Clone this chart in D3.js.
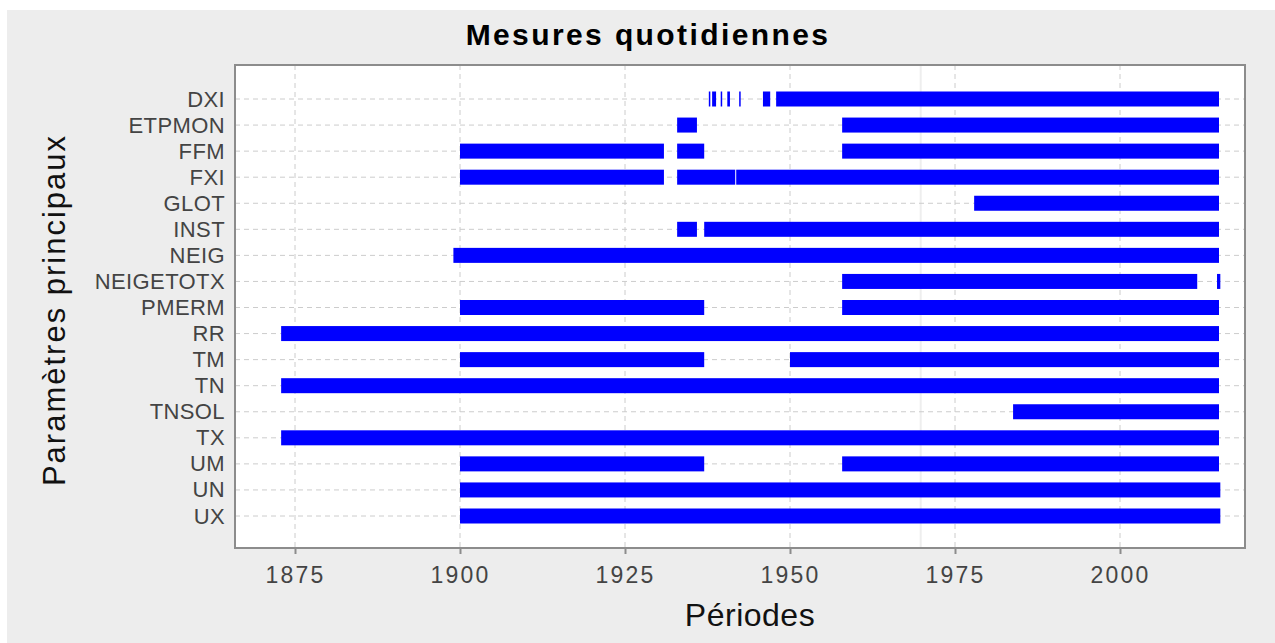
<!DOCTYPE html>
<html>
<head>
<meta charset="utf-8">
<script src="https://cdn.jsdelivr.net/npm/d3@7"></script>
<style>
body{margin:0;background:#fff;}
</style>
</head>
<body>
<script>
// parametres, dans l'ordre du haut vers le bas
const params = ["DXI","ETPMON","FFM","FXI","GLOT","INST","NEIG","NEIGETOTX","PMERM","RR","TM","TN","TNSOL","TX","UM","UN","UX"];

// periodes de mesure [debut, fin] par parametre
const periodsDXI = [[1937.7,1937.9],[1938.2,1938.8],[1939.5,1939.7],[1940.5,1940.9],[1942.3,1942.45],[1945.9,1947.0],[1947.9,2015.0]];
const periodsETPMON = [[1932.9,1935.9],[1957.9,2015.0]];
const periodsFFM = [[1900.0,1930.9],[1932.9,1937.0],[1957.9,2015.0]];
const periodsFXI = [[1900.0,1930.9],[1932.9,1941.7],[1941.85,2015.0]];
const periodsGLOT = [[1977.9,2015.0]];
const periodsINST = [[1932.9,1935.9],[1937.0,2015.0]];
const periodsNEIG = [[1899.0,2015.0]];
const periodsNEIGETOTX = [[1957.9,2011.7],[2014.7,2015.2]];
const periodsPMERM = [[1900.0,1937.0],[1957.9,2015.0]];
const periodsRR = [[1872.9,2015.0]];
const periodsTM = [[1900.0,1937.0],[1950.0,2015.0]];
const periodsTN = [[1872.9,2015.0]];
const periodsTNSOL = [[1983.8,2015.0]];
const periodsTX = [[1872.9,2015.0]];
const periodsUM = [[1900.0,1937.0],[1957.9,2015.0]];
const periodsUN = [[1900.0,2015.2]];
const periodsUX = [[1900.0,2015.2]];

const xTicks = [1875,1900,1925,1950,1975,2000];

const allPeriods = {DXI:periodsDXI,ETPMON:periodsETPMON,FFM:periodsFFM,FXI:periodsFXI,GLOT:periodsGLOT,
  INST:periodsINST,NEIG:periodsNEIG,NEIGETOTX:periodsNEIGETOTX,PMERM:periodsPMERM,RR:periodsRR,TM:periodsTM,
  TN:periodsTN,TNSOL:periodsTNSOL,TX:periodsTX,UM:periodsUM,UN:periodsUN,UX:periodsUX};

const segs = [];
params.forEach(p => allPeriods[p].forEach(d => segs.push({param:p, start:d[0], end:d[1]})));

const W = 1275, H = 643;
const pLeft = 235, pRight = 1245, pTop = 65, pBottom = 548;
const font = "Liberation Sans, Arial, sans-serif";

const svg = d3.select("body").append("svg")
  .attr("width", W)
  .attr("height", H);

svg.append("rect")
  .attr("x", 7).attr("y", 10)
  .attr("width", W - 7).attr("height", H - 10)
  .attr("fill", "#ededed");

svg.append("rect")
  .attr("x", pLeft).attr("y", pTop)
  .attr("width", pRight - pLeft).attr("height", pBottom - pTop)
  .attr("fill", "#fff");

const x = d3.scaleLinear()
  .domain([1875 - 60/6.6, 1875 + 950/6.6])
  .range([pLeft, pRight]);

const y = d3.scalePoint()
  .domain(params)
  .range([99, 516]);

// faint line in the panel
svg.append("line")
  .attr("x1", x(1969.8)).attr("x2", x(1969.8))
  .attr("y1", pTop).attr("y2", pBottom)
  .attr("stroke", "#eeeeee").attr("stroke-width", 2);

// grid
svg.append("g").selectAll("line").data(xTicks).enter().append("line")
  .attr("x1", d => x(d)).attr("x2", d => x(d))
  .attr("y1", pTop).attr("y2", pBottom)
  .attr("stroke", "#cccccc").attr("stroke-width", 1)
  .attr("stroke-dasharray", "5,4");

svg.append("g").selectAll("line").data(params).enter().append("line")
  .attr("x1", pLeft).attr("x2", pRight)
  .attr("y1", d => y(d)).attr("y2", d => y(d))
  .attr("stroke", "#cccccc").attr("stroke-width", 1)
  .attr("stroke-dasharray", "5,4");

// bars
svg.append("g").selectAll("rect").data(segs).enter().append("rect")
  .attr("x", d => x(d.start))
  .attr("y", d => y(d.param) - 7.5)
  .attr("width", d => Math.max(1.5, x(d.end) - x(d.start)))
  .attr("height", 15)
  .attr("fill", "#0000ff");

// frame
svg.append("rect")
  .attr("x", pLeft).attr("y", pTop)
  .attr("width", pRight - pLeft).attr("height", pBottom - pTop)
  .attr("fill", "none")
  .attr("stroke", "#8c8c8c").attr("stroke-width", 2);

// x axis
const xAxis = svg.append("g")
  .attr("transform", "translate(0," + pBottom + ")")
  .call(d3.axisBottom(x).tickValues(xTicks).tickFormat(d3.format("d")).tickSize(6).tickSizeOuter(0));
xAxis.select(".domain").remove();
xAxis.selectAll(".tick line").attr("stroke", "#8c8c8c").attr("stroke-width", 2);
xAxis.selectAll(".tick text")
  .attr("y", 35).attr("dy", null)
  .attr("font-family", font)
  .attr("font-size", "23px")
  .attr("letter-spacing", "2.2px")
  .attr("fill", "#444");

// y axis
const yAxis = svg.append("g")
  .attr("transform", "translate(" + pLeft + ",0)")
  .call(d3.axisLeft(y).tickSize(0).tickPadding(10));
yAxis.select(".domain").remove();
yAxis.selectAll(".tick text")
  .attr("font-family", font)
  .attr("font-size", "22px")
  .attr("letter-spacing", "0.4px")
  .attr("fill", "#444");

// titles
svg.append("text")
  .attr("x", 648).attr("y", 45)
  .attr("text-anchor", "middle")
  .attr("font-family", font)
  .attr("font-weight", "bold")
  .attr("font-size", "30px")
  .attr("letter-spacing", "2.4px")
  .attr("fill", "#000")
  .text("Mesures quotidiennes");

svg.append("text")
  .attr("x", 750).attr("y", 626)
  .attr("text-anchor", "middle")
  .attr("font-family", font)
  .attr("font-size", "32px")
  .attr("letter-spacing", "0.5px")
  .attr("fill", "#111")
  .text("Périodes");

svg.append("text")
  .attr("transform", "translate(65,310) rotate(-90)")
  .attr("text-anchor", "middle")
  .attr("font-family", font)
  .attr("font-size", "31px")
  .attr("letter-spacing", "2px")
  .attr("fill", "#111")
  .text("Paramètres principaux");
</script>
</body>
</html>
